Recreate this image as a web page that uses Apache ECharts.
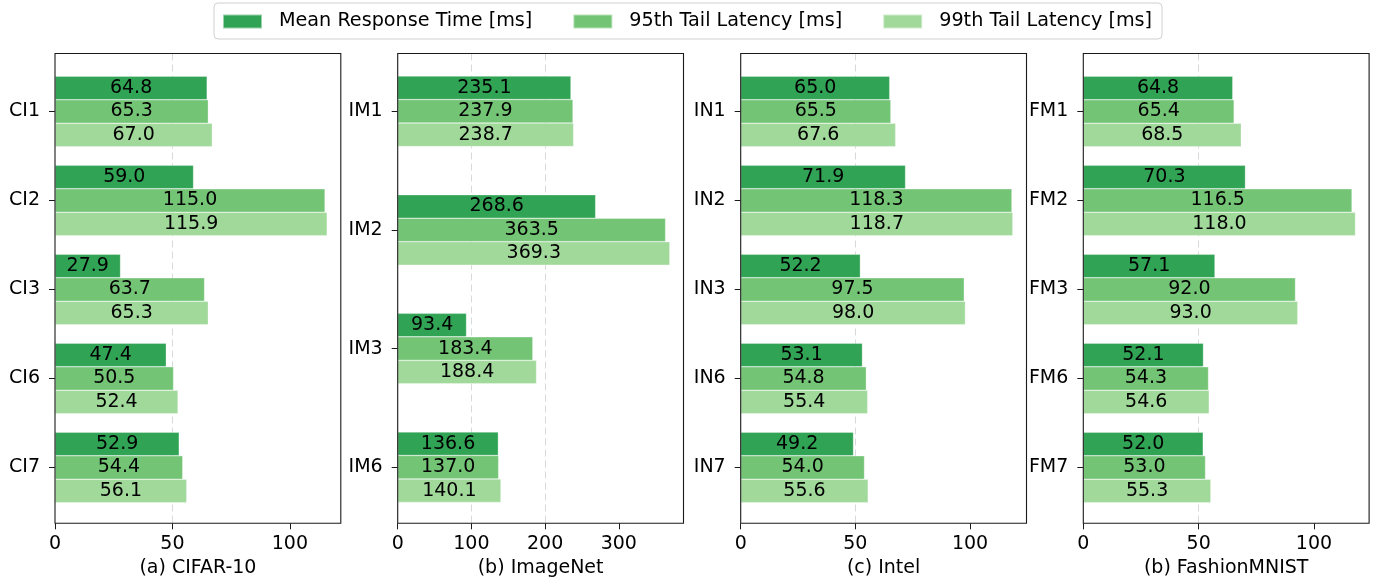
<!DOCTYPE html>
<html>
<head>
<meta charset="utf-8">
<script src="https://cdn.jsdelivr.net/npm/echarts@6/dist/echarts.min.js"></script>
<style>
html,body{margin:0;padding:0;background:#fff;}
#chart{width:1381px;height:588px;}
</style>
</head>
<body>
<div id="chart"></div>
<script>
// ---- data ----
const seriesNames = ['Mean Response Time [ms]', '95th Tail Latency [ms]', '99th Tail Latency [ms]'];

const categoriesCI = ['CI1', 'CI2', 'CI3', 'CI6', 'CI7'];
const meanCI = [64.8, 59.0, 27.9, 47.4, 52.9];
const p95CI = [65.3, 115.0, 63.7, 50.5, 54.4];
const p99CI = [67.0, 115.9, 65.3, 52.4, 56.1];

const categoriesIM = ['IM1', 'IM2', 'IM3', 'IM6'];
const meanIM = [235.1, 268.6, 93.4, 136.6];
const p95IM = [237.9, 363.5, 183.4, 137.0];
const p99IM = [238.7, 369.3, 188.4, 140.1];

const categoriesIN = ['IN1', 'IN2', 'IN3', 'IN6', 'IN7'];
const meanIN = [65.0, 71.9, 52.2, 53.1, 49.2];
const p95IN = [65.5, 118.3, 97.5, 54.8, 54.0];
const p99IN = [67.6, 118.7, 98.0, 55.4, 55.6];

const categoriesFM = ['FM1', 'FM2', 'FM3', 'FM6', 'FM7'];
const meanFM = [64.8, 70.3, 57.1, 52.1, 52.0];
const p95FM = [65.4, 116.5, 92.0, 54.3, 53.0];
const p99FM = [68.5, 118.0, 93.0, 54.6, 55.3];

const ticks50 = [0, 50, 100];
const ticks100 = [0, 100, 200, 300];

const titles = ['(a) CIFAR-10', '(b) ImageNet', '(c) Intel', '(b) FashionMNIST'];

// ---- layout / style ----
const colors = ['#31a354', '#74c476', '#a1d99b'];
const FONT = 'DejaVu Sans';
const FS = 19;
const frameLefts = [55, 397.7, 740.7, 1083.3];
const frameWidth = 285.8;
const frameTop = 53.5;
const frameHeight = 469.8;

const panels = [
  { cats: categoriesCI, vals: [meanCI, p95CI, p99CI], ticks: ticks50, innerTop: 67, innerHeight: 445 },
  { cats: categoriesIM, vals: [meanIM, p95IM, p99IM], ticks: ticks100, innerTop: 52, innerHeight: 474.5 },
  { cats: categoriesIN, vals: [meanIN, p95IN, p99IN], ticks: ticks50, innerTop: 67, innerHeight: 445 },
  { cats: categoriesFM, vals: [meanFM, p95FM, p99FM], ticks: ticks50, innerTop: 67, innerHeight: 445 }
];

const grid = [], xAxis = [], yAxis = [], series = [];

panels.forEach((p, i) => {
  const maxVal = Math.max(...p.vals.flat()) * 1.05;
  const outerIdx = grid.length;
  // outer frame grid
  grid.push({
    left: frameLefts[i], top: frameTop, width: frameWidth, height: frameHeight,
    show: true, z: 10, backgroundColor: 'transparent', borderColor: '#1a1a1a', borderWidth: 1.1
  });
  const innerIdx = grid.length;
  grid.push({
    left: frameLefts[i], top: p.innerTop, width: frameWidth, height: p.innerHeight,
    show: false
  });
  // outer x axis: ticks, labels, split lines, name
  xAxis.push({
    type: 'value', gridIndex: outerIdx, min: 0, max: maxVal,
    name: titles[i], nameLocation: 'middle', nameGap: 33,
    nameTextStyle: { fontFamily: FONT, fontSize: FS, color: '#000' },
    axisLine: { show: false },
    axisTick: { show: true, length: 6, lineStyle: { color: '#1a1a1a', width: 1 }, customValues: p.ticks },
    axisLabel: { show: true, margin: 11, fontFamily: FONT, fontSize: FS, color: '#000', customValues: p.ticks },
    splitLine: { show: true, showMinLine: false, showMaxLine: false,
      lineStyle: { color: '#d9d9d9', type: [7, 4], width: 1 } }
  });
  yAxis.push({ type: 'value', gridIndex: outerIdx, min: 0, max: 1, show: false });
  // inner x/y axes for bars
  xAxis.push({ type: 'value', gridIndex: innerIdx, min: 0, max: maxVal, show: false });
  yAxis.push({
    type: 'category', gridIndex: innerIdx, data: p.cats, inverse: true,
    axisLine: { show: false },
    axisTick: { show: true, alignWithLabel: true, length: 6, lineStyle: { color: '#1a1a1a', width: 1 } },
    axisLabel: { margin: 15, fontFamily: FONT, fontSize: FS, color: '#000' },
    splitLine: { show: false }
  });
  const axIdx = xAxis.length - 1;
  p.vals.forEach((vals, s) => {
    series.push({
      type: 'bar', name: seriesNames[s], xAxisIndex: axIdx, yAxisIndex: axIdx,
      data: vals, barWidth: 23.5, barGap: '0%',
      itemStyle: { color: colors[s], borderColor: 'rgba(255,255,255,0.5)', borderWidth: 0.6 },
      label: { show: true, position: 'inside', color: '#000', fontFamily: FONT, fontSize: FS,
        formatter: (d) => d.value.toFixed(1) },
      emphasis: { disabled: true },
      animation: false
    });
  });
});

const chart = echarts.init(document.getElementById('chart'), null, { renderer: 'canvas' });
chart.setOption({
  animation: false,
  color: colors,
  legend: {
    data: seriesNames,
    left: 214, top: 3,
    padding: [9, 10, 8, 8],
    itemWidth: 39, itemHeight: 14, itemGap: 40,
    borderColor: '#d0d0d0', borderWidth: 1, borderRadius: 4, backgroundColor: '#fff',
    icon: 'rect',
    textStyle: { fontFamily: FONT, fontSize: 19.2, color: '#000', padding: [0, 0, 0, 12] }
  },
  grid, xAxis, yAxis, series
});
</script>
</body>
</html>
